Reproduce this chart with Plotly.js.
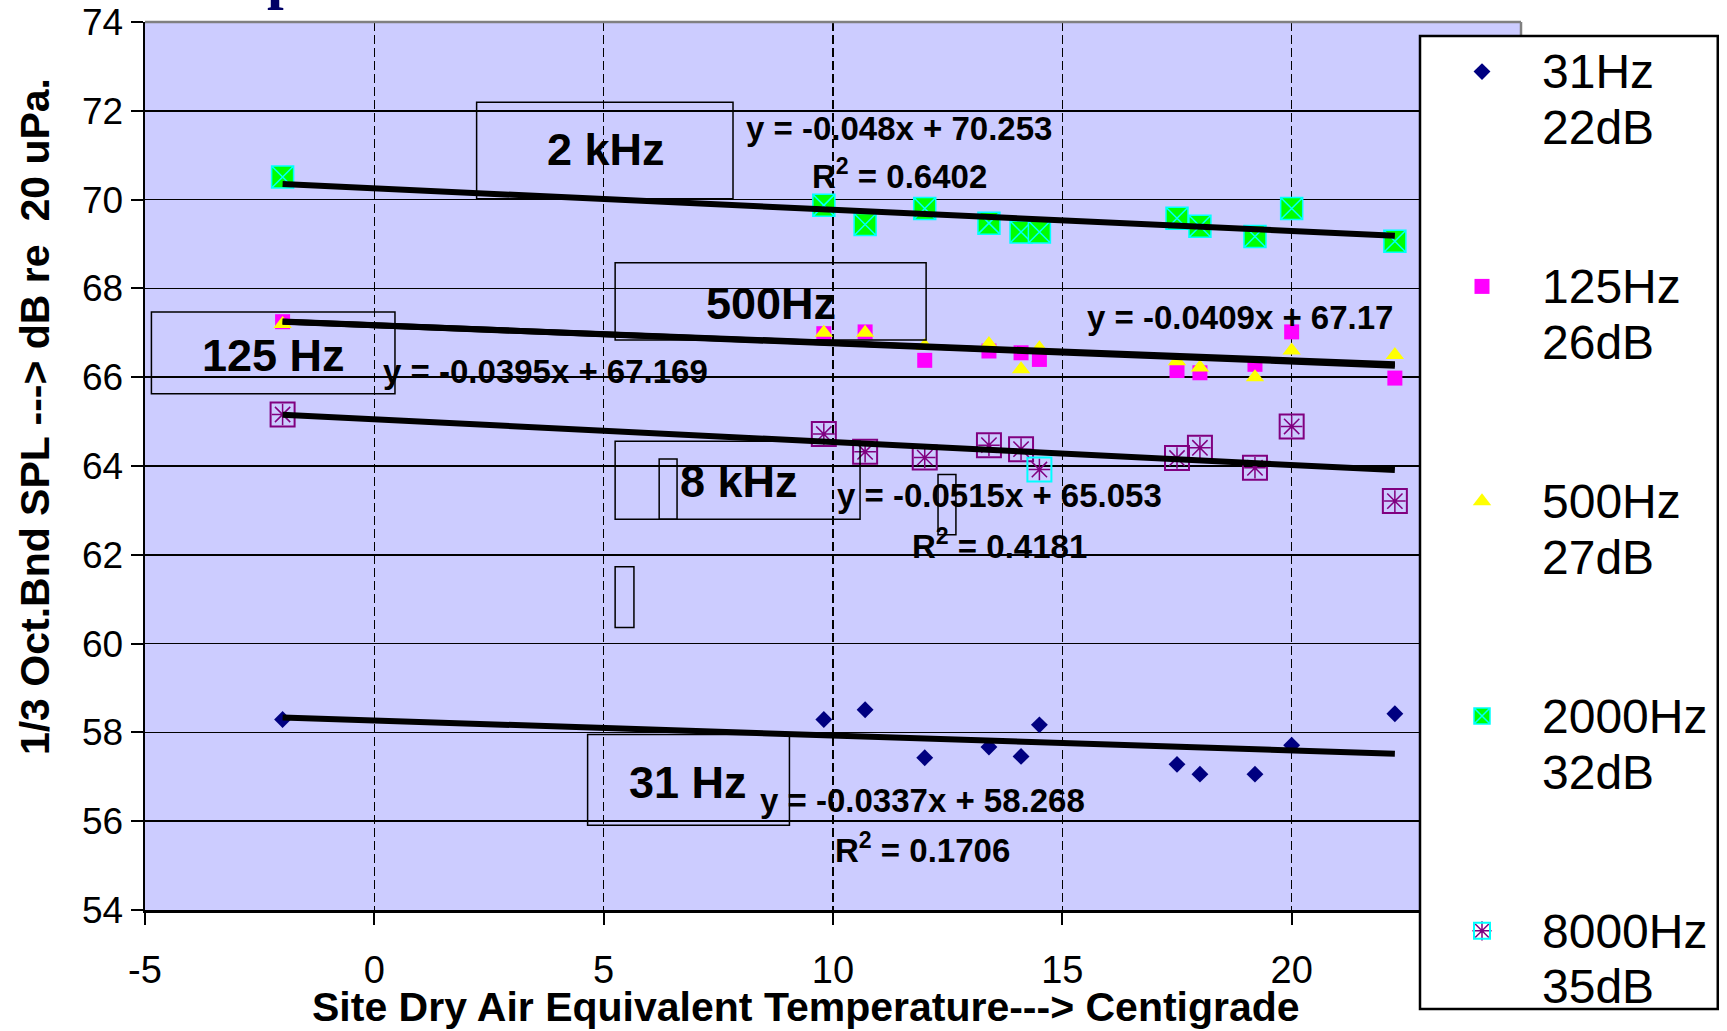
<!DOCTYPE html>
<html>
<head>
<meta charset="utf-8">
<script src="https://cdn.plot.ly/plotly-3.0.1.min.js"></script>
<style>html,body{margin:0;padding:0;background:#fff;}#chart{width:1727px;height:1031px;}</style>
</head>
<body>
<div id="chart"></div>
<script>
// ---- data ----
const temperatures = [-2.0, 9.8, 10.7, 12.0, 13.4, 14.1, 14.5, 17.5, 18.0, 19.2, 20.0, 22.25];
const spl31   = [58.29, 58.29, 58.51, 57.43, 57.67, 57.46, 58.17, 57.28, 57.06, 57.06, 57.71, 58.42];
const spl125  = [67.25, 66.98, 67.02, 66.38, 66.59, 66.55, 66.40, 66.15, 66.10, 66.29, 67.02, 65.98];
const spl500  = [67.20, 67.00, 67.00, 66.70, 66.75, 66.18, 66.65, 66.36, 66.22, 66.00, 66.60, 66.50];
const spl2000 = [70.51, 69.87, 69.44, 69.80, 69.47, 69.27, 69.27, 69.58, 69.40, 69.17, 69.80, 69.06];
const spl8000 = [65.16, 64.72, 64.32, 64.19, 64.47, 64.38, 63.92, 64.18, 64.41, 63.96, 64.89, 63.21];
const highlighted8000 = [false, false, false, false, false, false, true, false, false, false, false, false];

const seriesNames = ["31Hz<br>22dB", "125Hz<br>26dB", "500Hz<br>27dB", "2000Hz<br>32dB", "8000Hz<br>35dB"];
const trendSlopes = [-0.0337, -0.0395, -0.0409, -0.048, -0.0515];
const trendIntercepts = [58.268, 67.169, 67.17, 70.253, 65.053];
const equationTexts = ["y = -0.0337x + 58.268", "y = -0.0395x + 67.169", "y = -0.0409x + 67.17", "y = -0.048x + 70.253", "y = -0.0515x + 65.053"];
const rSquaredTexts = ["R<sup>2</sup> = 0.1706", "R<sup>2</sup> = 0.6402", "R<sup>2</sup> = 0.4181"];
const bandLabels = ["31 Hz", "125 Hz", "500Hz", "2 kHz", "8 kHz"];
const xTickValues = [-5, 0, 5, 10, 15, 20, 25];
const xTickLabels = ["-5", "0", "5", "10", "15", "20", "25"];
const yTickValues = [54, 56, 58, 60, 62, 64, 66, 68, 70, 72, 74];
const xTitle = "Site Dry Air Equivalent Temperature---> Centigrade";
const yTitle = "1/3 Oct.Bnd SPL ---> dB re\u00a0 20 uPa.";

const FONT = 'Liberation Sans, Arial, Helvetica, sans-serif';
const pick = (arr, keep) => arr.filter((_, i) => keep(i));
// legend glyphs at 48px with tighter line spacing (base font 43px)
const legendText = name => name.split('<br>').map(s => '<span style="font-size:48px">' + s + '</span>').join('<br>');

const traces = [];
traces.push({type:'scatter', mode:'markers', x:temperatures, y:spl31, name:legendText(seriesNames[0]), legendgroup:'g0',
  marker:{symbol:'diamond', size:13, color:'#000080'}});
traces.push({type:'scatter', mode:'markers', x:temperatures, y:spl125, name:legendText(seriesNames[1]), legendgroup:'g1',
  marker:{symbol:'square', size:15, color:'#FF00FF'}});
traces.push({type:'scatter', mode:'markers', x:temperatures, y:spl500, name:legendText(seriesNames[2]), legendgroup:'g2',
  marker:{symbol:'triangle-up', size:16, color:'#FFFF00'}});
traces.push({type:'scatter', mode:'markers', x:temperatures, y:spl2000, name:legendText(seriesNames[3]), legendgroup:'g3',
  marker:{symbol:'square-x', size:22, color:'#00FF00', line:{color:'#00FFFF', width:1.5}}});
// 8000 Hz: boxed asterisks (one point boxed in cyan)
traces.push({type:'scatter', mode:'markers', x:pick(temperatures, i => !highlighted8000[i]), y:pick(spl8000, i => !highlighted8000[i]),
  showlegend:false, legendgroup:'g4', marker:{symbol:'square-open', size:24, color:'#800080', line:{width:2}}});
traces.push({type:'scatter', mode:'markers', x:pick(temperatures, i => highlighted8000[i]), y:pick(spl8000, i => highlighted8000[i]),
  name:' ', legend:'legend2', showlegend:true, marker:{symbol:'square-open', size:24, color:'#00FFFF', line:{width:2}}});
traces.push({type:'scatter', mode:'markers', x:temperatures, y:spl8000, name:legendText(seriesNames[4]), legendgroup:'g4',
  marker:{symbol:'asterisk-open', size:18, color:'#800080', line:{width:1.5, color:'#800080'}}});

// trend lines from slope/intercept over the data's temperature span
const tMin = Math.min(...temperatures), tMax = Math.max(...temperatures);
trendSlopes.forEach((m, i) => {
  traces.push({type:'scatter', mode:'lines', x:[tMin, tMax], y:[m*tMin + trendIntercepts[i], m*tMax + trendIntercepts[i]],
    showlegend:false, hoverinfo:'skip', line:{color:'#000', width:6}});
});

function box(x0, x1, y0, y1) {
  return {type:'rect', xref:'x', yref:'y', x0, x1, y0, y1, line:{color:'#000', width:1.5}, fillcolor:'rgba(0,0,0,0)', layer:'above'};
}
const shapes = [
  box(2.23, 7.82, 70.02, 72.19),
  box(5.25, 12.03, 66.84, 68.58),
  box(-4.86, 0.45, 65.63, 67.47),
  box(5.25, 10.59, 62.80, 64.56),
  box(6.21, 6.60, 62.80, 64.16),
  box(5.25, 5.66, 60.36, 61.73),
  box(12.29, 12.68, 62.45, 63.81),
  box(4.65, 9.05, 55.91, 57.95),
  {type:'line', xref:'paper', yref:'paper', x0:0, x1:1, y0:1, y1:1, line:{color:'#808080', width:2.5}, layer:'above'},
  {type:'line', xref:'paper', yref:'paper', x0:1, x1:1, y0:0, y1:1, line:{color:'#808080', width:2.5}, layer:'above'},
  // legend frame
  {type:'rect', xref:'paper', yref:'paper', x0:0.9266, x1:1.1430, y0:-0.1115, y1:0.9842,
   line:{color:'#000', width:2.5}, fillcolor:'#ffffff', layer:'above'}
];

function label(text, x, y) {
  return {text:'<b>' + text + '</b>', x, y, xref:'x', yref:'y', showarrow:false, font:{family:FONT, size:45, color:'#000'}};
}
function eq(text, x, y) {
  return {text:'<b>' + text + '</b>', x, y, xref:'x', yref:'y', showarrow:false, font:{family:FONT, size:33, color:'#000'}};
}
const annotations = [
  label(bandLabels[3], 5.04, 71.12),
  label(bandLabels[2], 8.64, 67.66),
  label(bandLabels[1], -2.19, 66.50),
  label(bandLabels[4], 7.94, 63.64),
  label(bandLabels[0], 6.84, 56.88),
  eq(equationTexts[3], 11.43, 71.61),
  eq(rSquaredTexts[1], 11.45, 70.57),
  eq(equationTexts[2], 18.87, 67.34),
  eq(equationTexts[1], 3.73, 66.12),
  eq(equationTexts[4], 13.62, 63.34),
  eq(rSquaredTexts[2], 13.62, 62.25),
  eq(equationTexts[0], 11.96, 56.46),
  eq(rSquaredTexts[0], 11.96, 55.39),
  {text:'<b>' + xTitle + '</b>', xref:'paper', yref:'paper', x:0.4805, y:-0.1374, showarrow:false,
   font:{family:FONT, size:41, color:'#000'}},
  {text:'<b>' + yTitle + '</b>', xref:'paper', yref:'paper', x:-0.0985, y:0.5556, textangle:-90, showarrow:false,
   font:{family:FONT, size:41, color:'#000'}},
  {text:'<b>p</b>', xref:'paper', yref:'paper', x:0.087, y:1.09, showarrow:false,
   font:{family:'Liberation Serif, Times New Roman, serif', size:60, color:'#000066'}}
];

const legendCommon = {xanchor:'left', yanchor:'top', bgcolor:'rgba(0,0,0,0)', bordercolor:'rgba(0,0,0,0)', borderwidth:2,
  font:{family:FONT, size:43, color:'#000'}, itemwidth:110, valign:'top', maxheight:2000};
const legendTop = 0.9842 + 0.001;

const layout = {
  width:1727, height:1031,
  margin:{l:145, r:204, t:22, b:121},
  paper_bgcolor:'#ffffff', plot_bgcolor:'#CCCCFF',
  showlegend:true,
  xaxis:{range:[-5,25], tickvals:xTickValues, ticktext:xTickLabels, ticks:'outside', ticklen:12, tickwidth:2, tickcolor:'#000',
    showline:true, linecolor:'#000', linewidth:2.5, showgrid:true, gridcolor:'#000', gridwidth:1.5, griddash:'9px,4px',
    zeroline:false, tickfont:{family:FONT, size:38, color:'#000'}, ticklabelstandoff:13},
  yaxis:{range:[54,74], tickvals:yTickValues, ticks:'outside', ticklen:12, tickwidth:2, tickcolor:'#000',
    showline:true, linecolor:'#000', linewidth:2.5, showgrid:true, gridcolor:'#000', gridwidth:1.5,
    zeroline:false, tickfont:{family:FONT, size:37, color:'#000'}, ticklabelstandoff:0},
  legend:Object.assign({x:0.9266, y:legendTop, traceorder:'grouped', tracegroupgap:100}, legendCommon),
  legend2:Object.assign({x:0.9266, y:legendTop - 4 * 0.2376}, legendCommon),
  shapes, annotations
};

const gd = document.getElementById('chart');
Plotly.newPlot(gd, traces, layout, {displayModeBar:false, staticPlot:true}).then(() => {
  // put the cyan legend box exactly over the 8000 Hz legend symbol
  try {
    const p1 = gd.querySelectorAll('g.legend g.traces .legendpoints');
    const p2 = gd.querySelectorAll('g.legend2 g.traces .legendpoints');
    if (p1.length && p2.length) {
      const a = p1[p1.length - 1].getBoundingClientRect();
      const b = p2[0].getBoundingClientRect();
      const dy = (a.top + a.height / 2) - (b.top + b.height / 2);
      const plotH = layout.height - layout.margin.t - layout.margin.b;
      if (Math.abs(dy) > 0.5) Plotly.relayout(gd, {'legend2.y': layout.legend2.y - dy / plotH});
    }
  } catch (e) {}
});
</script>
</body>
</html>
